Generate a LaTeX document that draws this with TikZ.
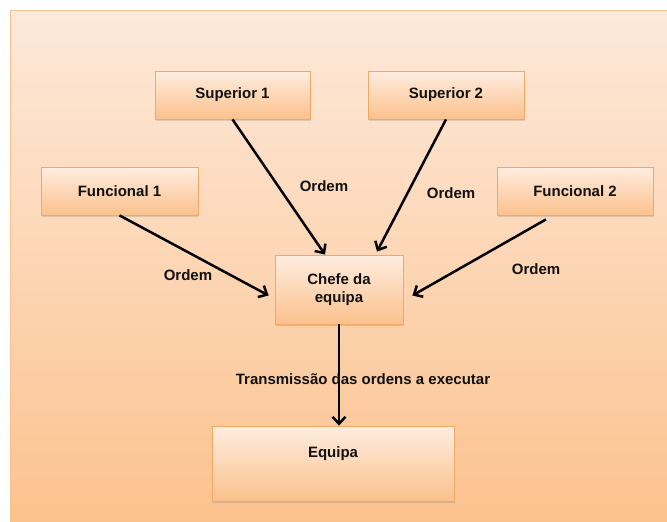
\documentclass[tikz,border=0pt]{standalone}
\usepackage{fontspec}
\setmainfont{Liberation Sans}
\usetikzlibrary{arrows.meta,shadows,calc}
\definecolor{bgtop}{HTML}{FDE9DA}
\definecolor{bgbot}{HTML}{FCC28E}
\definecolor{bxtop}{HTML}{FEEDE0}
\definecolor{bxbot}{HTML}{FBC18C}
\definecolor{bxline}{HTML}{F0A865}
\definecolor{txt}{HTML}{111111}
\begin{document}
\begin{tikzpicture}[x=1pt,y=-1pt,
  every node/.style={font=\fontsize{15}{17.5}\selectfont\bfseries, text=txt},
  box/.style={draw=bxline, line width=0.8pt, top color=bxtop, bottom color=bxbot,
    align=center, inner sep=0pt,
    drop shadow={opacity=0.25, shadow xshift=1pt, shadow yshift=-1.5pt}},
  arr/.style={line width=2.5pt, -{Straight Barb[length=7pt,width=13pt,line width=2.5pt]}},
  lbl/.style={inner sep=1pt}
]
\useasboundingbox (0,0) rectangle (667,522);
\shade[top color=bgtop, bottom color=bgbot] (10,10) rectangle (667,522);
\draw[draw=bxline!70, line width=0.8pt] (10,522) -- (10,10) -- (667,10);

\node[box, minimum width=155pt, minimum height=48pt] (s1) at (232.5,95) {Superior 1};
\node[box, minimum width=156pt, minimum height=48pt] (s2) at (446,95) {Superior 2};
\node[box, minimum width=157pt, minimum height=48pt] (f1) at (119.5,191) {Funcional 1};
\node[box, minimum width=156pt, minimum height=48pt] (f2) at (575,191) {Funcional 2};
\node[box, minimum width=128pt, minimum height=69pt] (ch) at (339,289.5) {Chefe da\\equipa};
\node[box, minimum width=242pt, minimum height=75pt, text height=10pt, text depth=22pt] (eq) at (333,463.5) {Equipa};

\node[lbl] (o1) at (324,186) {Ordem};
\node[lbl] (o2) at (451,193) {Ordem};
\node[lbl] (o3) at (188,275) {Ordem};
\node[lbl] (o4) at (536,269) {Ordem};
\node[lbl] (tr) at (363,379) {Transmissão das ordens a executar};

\draw[arr] (s1.south) -- ($(ch.north)+(-14,0)$);
\draw[arr] (s2.south) -- ($(ch.north)+(38,-3)$);
\draw[arr] (f1.south) -- ($(ch.west)+(-6,6)$);
\draw[arr] ($(f2.south)+(-29,4)$) -- ($(ch.east)+(9,6)$);
\draw[arr] (ch.south) -- (ch.south |- eq.north);
\end{tikzpicture}
\end{document}
